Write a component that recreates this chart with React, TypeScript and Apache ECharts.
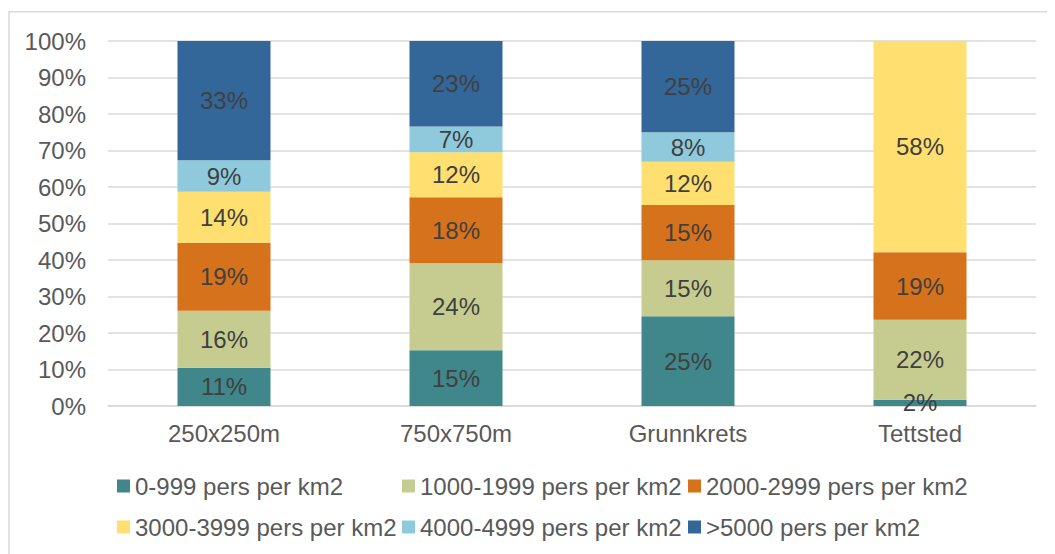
import React, { useEffect, useRef } from "react";
import * as echarts from "echarts";

const categories = ["250x250m", "750x750m", "Grunnkrets", "Tettsted"];
const seriesNames = [
  "0-999 pers per km2",
  "1000-1999 pers per km2",
  "2000-2999 pers per km2",
  "3000-3999 pers per km2",
  "4000-4999 pers per km2",
  ">5000 pers per km2",
];
const s0_999 = [10.5, 15.3, 24.6, 1.7];
const s1000_1999 = [15.6, 23.8, 15.3, 21.9];
const s2000_2999 = [18.6, 18.1, 15.2, 18.5];
const s3000_3999 = [14.0, 12.3, 11.8, 57.9];
const s4000_4999 = [8.6, 7.1, 8.1, 0];
const s5000 = [32.7, 23.4, 25.0, 0];
const seriesValues = [s0_999, s1000_1999, s2000_2999, s3000_3999, s4000_4999, s5000];
const colors = ["#3F878B", "#C6CC8F", "#D6711C", "#FEDF6F", "#8ECADC", "#336699"];
const yTicks = [0, 10, 20, 30, 40, 50, 60, 70, 80, 90, 100];

const FONT = "'Liberation Sans', Arial, sans-serif";
const FS = 24;

export default function App() {
  const ref = useRef<HTMLDivElement>(null);
  useEffect(() => {
    if (!ref.current) return;
    const chart = echarts.init(ref.current, undefined, { renderer: "svg" });
    const legendLeft = [109, 394, 680];
    const legendTop = [466, 507];
    chart.setOption({
      animation: false,
      textStyle: { fontFamily: FONT },
      graphic: [
        {
          type: "rect",
          shape: { x: 1, y: 3.8, width: 1200, height: 700 },
          style: { fill: "none", stroke: "#D9D9D9", lineWidth: 1.5 },
          silent: true,
        },
      ],
      legend: seriesNames.map((n, i) => ({
        data: [n],
        left: legendLeft[i % 3],
        top: legendTop[Math.floor(i / 3)],
        padding: 0,
        icon: "rect",
        itemWidth: 13,
        itemHeight: 13,
        selectedMode: false,
        textStyle: { fontSize: FS, color: "#595959", fontFamily: FONT },
      })),
      grid: { left: 100, right: 19, top: 33, bottom: 148 },
      xAxis: {
        type: "category",
        data: categories,
        axisLine: { lineStyle: { color: "#D9D9D9", width: 1.5 } },
        axisTick: { show: false },
        axisLabel: { fontSize: FS, color: "#595959", margin: 15, fontFamily: FONT },
      },
      yAxis: {
        type: "value",
        min: 0,
        max: 100,
        interval: 10,
        axisLine: { show: false },
        axisTick: { show: false },
        splitLine: { lineStyle: { color: "#D9D9D9", width: 1.5 } },
        axisLabel: {
          fontSize: FS,
          color: "#595959",
          margin: 22,
          fontFamily: FONT,
          formatter: (v: number) => (yTicks.includes(v) ? v + "%" : ""),
        },
      },
      series: seriesNames.map((n, i) => ({
        name: n,
        type: "bar",
        stack: "total",
        barWidth: 93,
        data: seriesValues[i],
        itemStyle: { color: colors[i] },
        label: {
          show: true,
          position: "inside",
          fontSize: FS,
          color: "#404040",
          fontFamily: FONT,
          formatter: (p: any) => (p.value > 0 ? Math.round(p.value) + "%" : ""),
        },
      })),
    });
    return () => chart.dispose();
  }, []);
  return <div ref={ref} style={{ width: 1047, height: 546 }} />;
}
